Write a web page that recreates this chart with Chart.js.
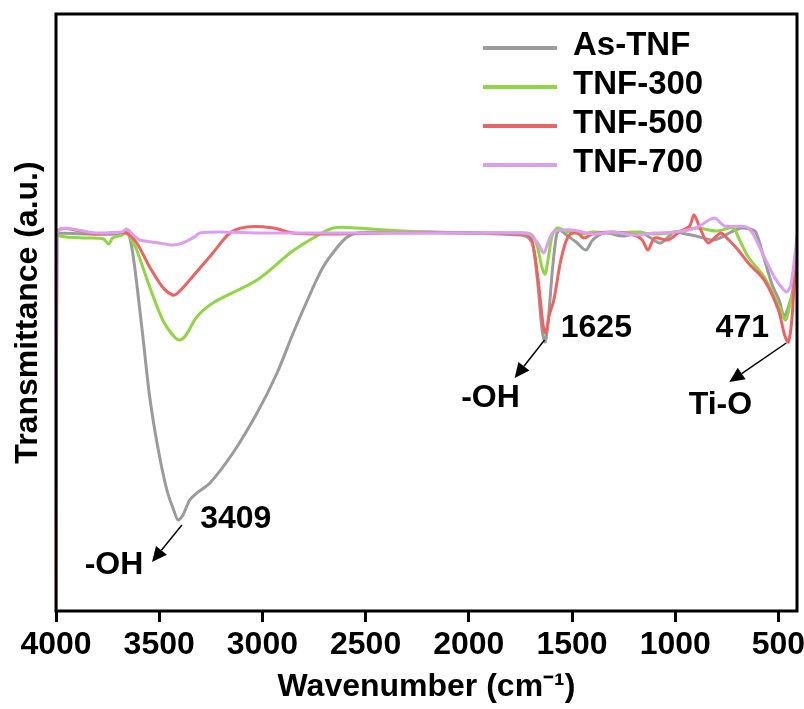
<!DOCTYPE html>
<html>
<head>
<meta charset="utf-8">
<script src="https://cdn.jsdelivr.net/npm/chart.js@4.4.0/dist/chart.umd.min.js"></script>
<style>
  html, body { margin: 0; padding: 0; background: #fff; }
  #wrap { width: 804px; height: 709px; }
</style>
</head>
<body>
<div id="wrap"><canvas id="chart" width="804" height="709"></canvas></div>
<script>
// tick labels on the wavenumber axis
const xTicks = [4000, 3500, 3000, 2500, 2000, 1500, 1000, 500];

const seriesNames = ["As-TNF", "TNF-300", "TNF-500", "TNF-700"];
const seriesColors = ["#9b9b9b", "#8fd640", "#ef6262", "#dc9ff0"];

// As-TNF (wavenumber / transmittance a.u.)
const asWn = [4000, 3850, 3700, 3658, 3640, 3620, 3580, 3546, 3507, 3463, 3430, 3409, 3385, 3352, 3318, 3254, 3143, 3026, 2929, 2851, 2760, 2706, 2640, 2589, 2540, 2400, 2200, 2000, 1850, 1750, 1715, 1690, 1665, 1645, 1630, 1615, 1595, 1575, 1560, 1520, 1480, 1433, 1400, 1346, 1250, 1170, 1118, 1070, 1005, 950, 900, 812, 729, 680, 640, 610, 570, 530, 497, 473, 450, 430, 415, 405];
const asT = [376, 375, 375, 378, 369, 344, 274, 212, 162, 119, 99, 89, 94, 109, 116, 126, 156, 196, 236, 276, 319, 342, 361, 372, 376, 377, 377, 376, 375, 374, 372, 364, 324, 279, 267, 289, 339, 374, 379, 373, 367, 359, 369, 376, 373, 377, 371, 366, 377, 375, 373, 369, 377, 381, 380, 377, 351, 324, 309, 293, 303, 319, 349, 372];

// TNF-300
const t300Wn = [4000, 3950, 3850, 3770, 3745, 3725, 3680, 3658, 3640, 3609, 3546, 3483, 3430, 3400, 3370, 3318, 3240, 3026, 2866, 2754, 2657, 2540, 2400, 2200, 2000, 1800, 1700, 1670, 1645, 1630, 1615, 1595, 1570, 1520, 1450, 1400, 1300, 1200, 1100, 1000, 900, 800, 720, 695, 646, 569, 500, 465, 440, 428, 415, 405];
const t300T = [374, 372, 371, 370, 365, 371, 374, 377, 371, 359, 322, 289, 273, 269, 274, 292, 306, 329, 356, 371, 381, 381, 379, 377, 376, 376, 375, 364, 341, 335, 351, 374, 381, 377, 375, 377, 376, 377, 375, 377, 381, 378, 381, 372, 352, 332, 304, 289, 309, 316, 344, 369];

// TNF-500
const t500Wn = [4000, 3995, 3800, 3660, 3609, 3546, 3480, 3434, 3410, 3352, 3240, 3157, 3075, 2948, 2851, 2700, 2400, 2000, 1750, 1700, 1666, 1640, 1627, 1610, 1588, 1554, 1520, 1480, 1443, 1400, 1300, 1200, 1160, 1132, 1100, 1035, 980, 930, 909, 880, 841, 800, 778, 740, 695, 646, 569, 500, 470, 452, 435, 420, 407];
const t500T = [0, 376, 375, 376, 366, 342, 321, 314, 316, 329, 356, 376, 382, 381, 376, 375, 376, 376, 375, 372, 332, 284, 276, 294, 309, 349, 372, 377, 371, 375, 377, 374, 369, 359, 371, 369, 377, 383, 394, 381, 366, 373, 376, 369, 359, 346, 329, 299, 274, 267, 289, 339, 376];

// TNF-700
const t700Wn = [4000, 3995, 3800, 3680, 3658, 3620, 3594, 3500, 3434, 3386, 3330, 3303, 3200, 3000, 2600, 2000, 1750, 1700, 1660, 1637, 1615, 1590, 1500, 1400, 1300, 1200, 1100, 1000, 900, 812, 760, 646, 569, 520, 486, 460, 440, 420, 408];
const t700T = [89, 376, 376, 377, 380, 373, 369, 366, 364, 366, 372, 376, 377, 376, 376, 376, 376, 374, 364, 356, 367, 377, 379, 375, 377, 374, 376, 377, 381, 391, 383, 381, 352, 332, 322, 317, 324, 354, 376];

// peak notes and arrows
const noteTexts = ["3409", "-OH", "1625", "-OH", "471", "Ti-O"];
const noteWn = [3129, 3719, 1382, 1895, 675, 781];
const noteT = [90, 44, 281, 211, 281, 204];
const arrowFromWn = [3390, 1633, 462];
const arrowFromT = [84, 269, 266];
const arrowToWn = [3535, 1778, 738];
const arrowToT = [47, 231, 227];

const FONT = "'Liberation Sans', Arial, sans-serif";

const toPoints = (wn, t) => wn.map((w, i) => ({ x: w, y: t[i] }));

const makeSet = (i, wn, t, order) => ({
  label: seriesNames[i],
  data: toPoints(wn, t),
  borderColor: seriesColors[i],
  backgroundColor: seriesColors[i],
  borderWidth: 3,
  pointRadius: 0,
  tension: 0.3,
  order: order,
});

const drawArrow = (ctx, x1, y1, x2, y2) => {
  const ang = Math.atan2(y2 - y1, x2 - x1);
  const len = 15, half = 7;
  const bx = x2 - len * Math.cos(ang), by = y2 - len * Math.sin(ang);
  ctx.beginPath();
  ctx.moveTo(x1, y1);
  ctx.lineTo(bx, by);
  ctx.stroke();
  ctx.beginPath();
  ctx.moveTo(x2, y2);
  ctx.lineTo(bx + half * Math.sin(ang), by - half * Math.cos(ang));
  ctx.lineTo(bx - half * Math.sin(ang), by + half * Math.cos(ang));
  ctx.closePath();
  ctx.fill();
};

const extrasPlugin = {
  id: "extras",
  afterDatasetsDraw(chart) {
    const { ctx, chartArea: a } = chart;
    const xs = chart.scales.x, ys = chart.scales.y;
    ctx.save();

    // frame
    ctx.strokeStyle = "#000";
    ctx.lineWidth = 3;
    ctx.strokeRect(a.left, a.top, a.right - a.left, a.bottom - a.top);

    // notes
    ctx.fillStyle = "#000";
    ctx.font = "bold 32px " + FONT;
    ctx.textAlign = "center";
    ctx.textBaseline = "middle";
    for (let i = 0; i < noteTexts.length; i++) {
      ctx.fillText(noteTexts[i], xs.getPixelForValue(noteWn[i]), ys.getPixelForValue(noteT[i]));
    }

    // arrows
    ctx.lineWidth = 1.5;
    for (let i = 0; i < arrowFromWn.length; i++) {
      drawArrow(ctx,
        xs.getPixelForValue(arrowFromWn[i]), ys.getPixelForValue(arrowFromT[i]),
        xs.getPixelForValue(arrowToWn[i]), ys.getPixelForValue(arrowToT[i]));
    }

    // legend, top right inside the frame
    ctx.font = "bold 33px " + FONT;
    ctx.textAlign = "left";
    for (let i = 0; i < seriesNames.length; i++) {
      const ly = a.top + 34 + i * 39;
      ctx.strokeStyle = seriesColors[i];
      ctx.lineWidth = 4;
      ctx.beginPath();
      ctx.moveTo(a.right - 314, ly);
      ctx.lineTo(a.right - 240, ly);
      ctx.stroke();
      ctx.fillStyle = "#000";
      ctx.fillText(seriesNames[i], a.right - 224, ly - 2);
    }
    ctx.restore();
  },
};

const ctx = document.getElementById("chart");
const chart = new Chart(ctx, {
  type: "line",
  data: {
    datasets: [
      makeSet(0, asWn, asT, 3),
      makeSet(1, t300Wn, t300T, 2),
      makeSet(2, t500Wn, t500T, 1),
      makeSet(3, t700Wn, t700T, 0),
    ],
  },
  options: {
    responsive: false,
    animation: false,
    layout: { padding: { top: 14, right: 7, left: 0, bottom: 0 } },
    plugins: {
      legend: { display: false },
      tooltip: { enabled: false },
    },
    scales: {
      x: {
        type: "linear",
        min: 410,
        max: 4000,
        reverse: true,
        afterBuildTicks: (s) => {
          s.ticks = xTicks.map((v) => ({ value: v }));
        },
        afterFit: (s) => {
          s.height = 98;
          s.paddingLeft = 0;
          s.paddingRight = 0;
        },
        border: { display: false },
        grid: {
          drawOnChartArea: false,
          drawTicks: true,
          tickLength: 11,
          tickWidth: 3,
          color: "#000",
        },
        ticks: {
          color: "#000",
          font: { family: FONT, size: 32, weight: "bold" },
          padding: 4,
          maxRotation: 0,
          autoSkip: false,
          callback: (v) => String(v),
        },
        title: {
          display: true,
          text: "Wavenumber (cm\u207B\u00B9)",
          color: "#000",
          font: { family: FONT, size: 32, weight: "bold" },
          padding: { top: 0, bottom: 3 },
        },
      },
      y: {
        min: -2,
        max: 595,
        afterFit: (s) => {
          s.width = 56;
        },
        border: { display: false },
        grid: { display: false },
        ticks: { display: false },
        title: {
          display: true,
          text: "Transmittance (a.u.)",
          color: "#000",
          font: { family: FONT, size: 32, weight: "bold" },
          padding: { top: 9, bottom: 0 },
        },
      },
    },
  },
  plugins: [extrasPlugin],
});
</script>
</body>
</html>
